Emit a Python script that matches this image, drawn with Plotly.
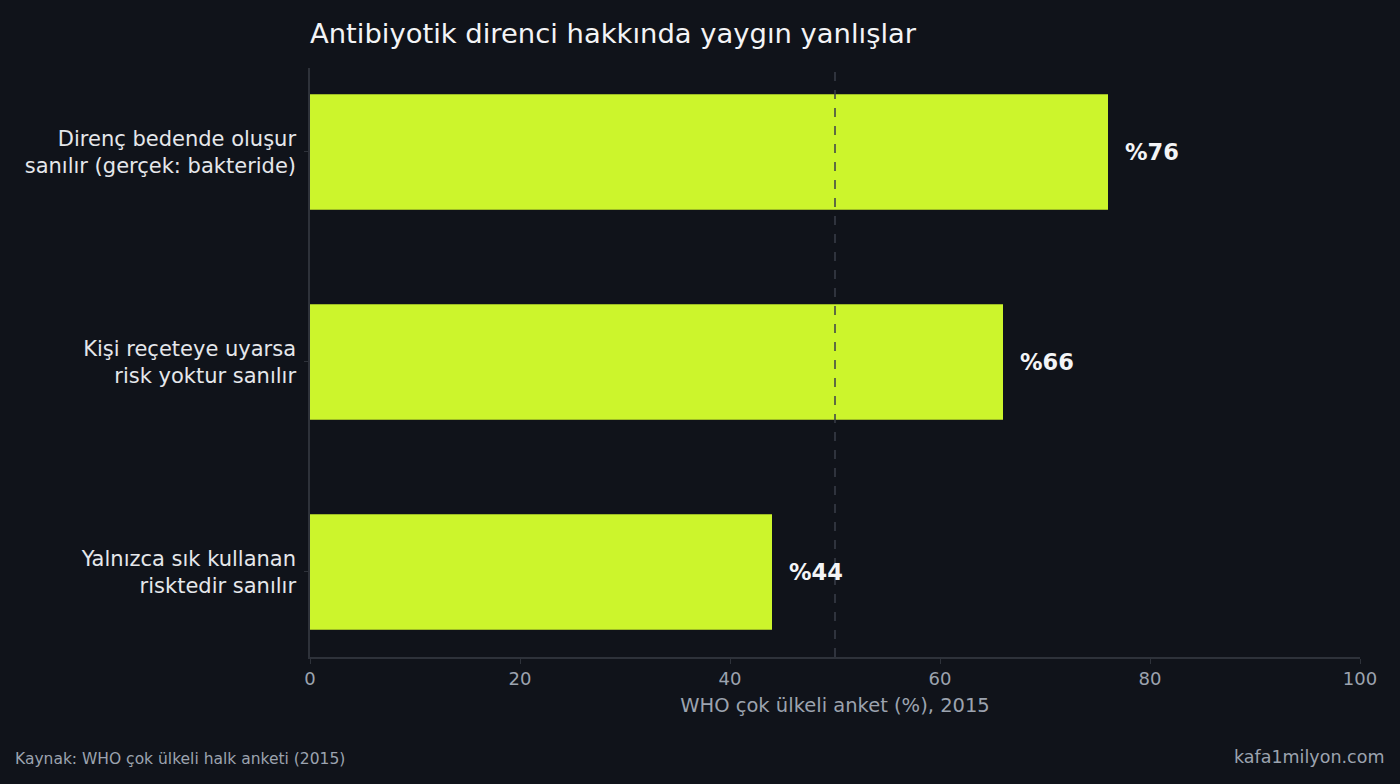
import plotly.graph_objects as go

# Data
labels = ["Direnç bedende oluşur<br>sanılır (gerçek: bakteride)",
          "Kişi reçeteye uyarsa<br>risk yoktur sanılır",
          "Yalnızca sık kullanan<br>risktedir sanılır"]
values = [76, 66, 44]
value_text = ["%76", "%66", "%44"]
ref_line = 50

bg = "#10131a"
bar_color = "#ccf52c"
axis_color = "#2e323a"
muted = "#9ca3af"
font_family = "DejaVu Sans, sans-serif"

fig = go.Figure(go.Bar(
    x=values,
    y=labels,
    orientation="h",
    width=0.55,
    marker=dict(color=bar_color, line_width=0),
    hoverinfo="x+y",
))

# value labels to the right of each bar
for lab, v, t in zip(labels, values, value_text):
    fig.add_annotation(x=v, y=lab, text="<b>" + t + "</b>", showarrow=False,
                       xanchor="left", xshift=15,
                       font=dict(size=22.5, color="#f3f4f6", family=font_family))

# dashed reference line at 50
fig.add_shape(type="line", x0=ref_line, x1=ref_line, y0=0, y1=1, yref="paper",
              layer="above", line=dict(color="#3a3f4a", width=1.5, dash="dash"))

fig.update_layout(
    width=1400, height=784,
    paper_bgcolor=bg, plot_bgcolor=bg,
    font=dict(family=font_family, color="#e5e7eb"),
    margin=dict(l=310, r=40, t=68, b=127),
    title=dict(text="Antibiyotik direnci hakkında yaygın yanlışlar",
               x=0, xref="paper", xanchor="left", y=0.958, yanchor="middle",
               font=dict(size=27.4, color="#f3f4f6", family=font_family)),
    showlegend=False,
    bargap=0.45,
)

fig.update_xaxes(range=[0, 100], tickvals=[0, 20, 40, 60, 80, 100],
                 showgrid=False, zeroline=False,
                 showline=True, linecolor=axis_color, linewidth=1.5,
                 ticks="outside", ticklen=5, tickcolor=axis_color,
                 tickfont=dict(size=18, color=muted),
                 title=dict(text="WHO çok ülkeli anket (%), 2015",
                            font=dict(size=19.5, color=muted), standoff=10))

fig.update_yaxes(range=[2.405, -0.4], showgrid=False, zeroline=False,
                 showline=True, linecolor=axis_color, linewidth=1.5,
                 ticks="outside", ticklen=4, tickcolor=axis_color,
                 tickfont=dict(size=21, color="#e5e7eb"), ticklabelstandoff=4)

fig.add_annotation(text="Kaynak: WHO çok ülkeli halk anketi (2015)",
                   xref="paper", yref="paper", x=-310 / 1050, y=-127 / 589,
                   xanchor="left", yanchor="bottom", yshift=14, xshift=13,
                   showarrow=False, font=dict(size=15.5, color=muted))
fig.add_annotation(text="kafa1milyon.com",
                   xref="paper", yref="paper", x=1 + 40 / 1050, y=-127 / 589,
                   xanchor="right", yanchor="bottom", yshift=15, xshift=-14,
                   showarrow=False, font=dict(size=17.5, color=muted))

fig.write_html("out.html", config={"displayModeBar": False},
               post_script="document.body.style.margin='0';")
